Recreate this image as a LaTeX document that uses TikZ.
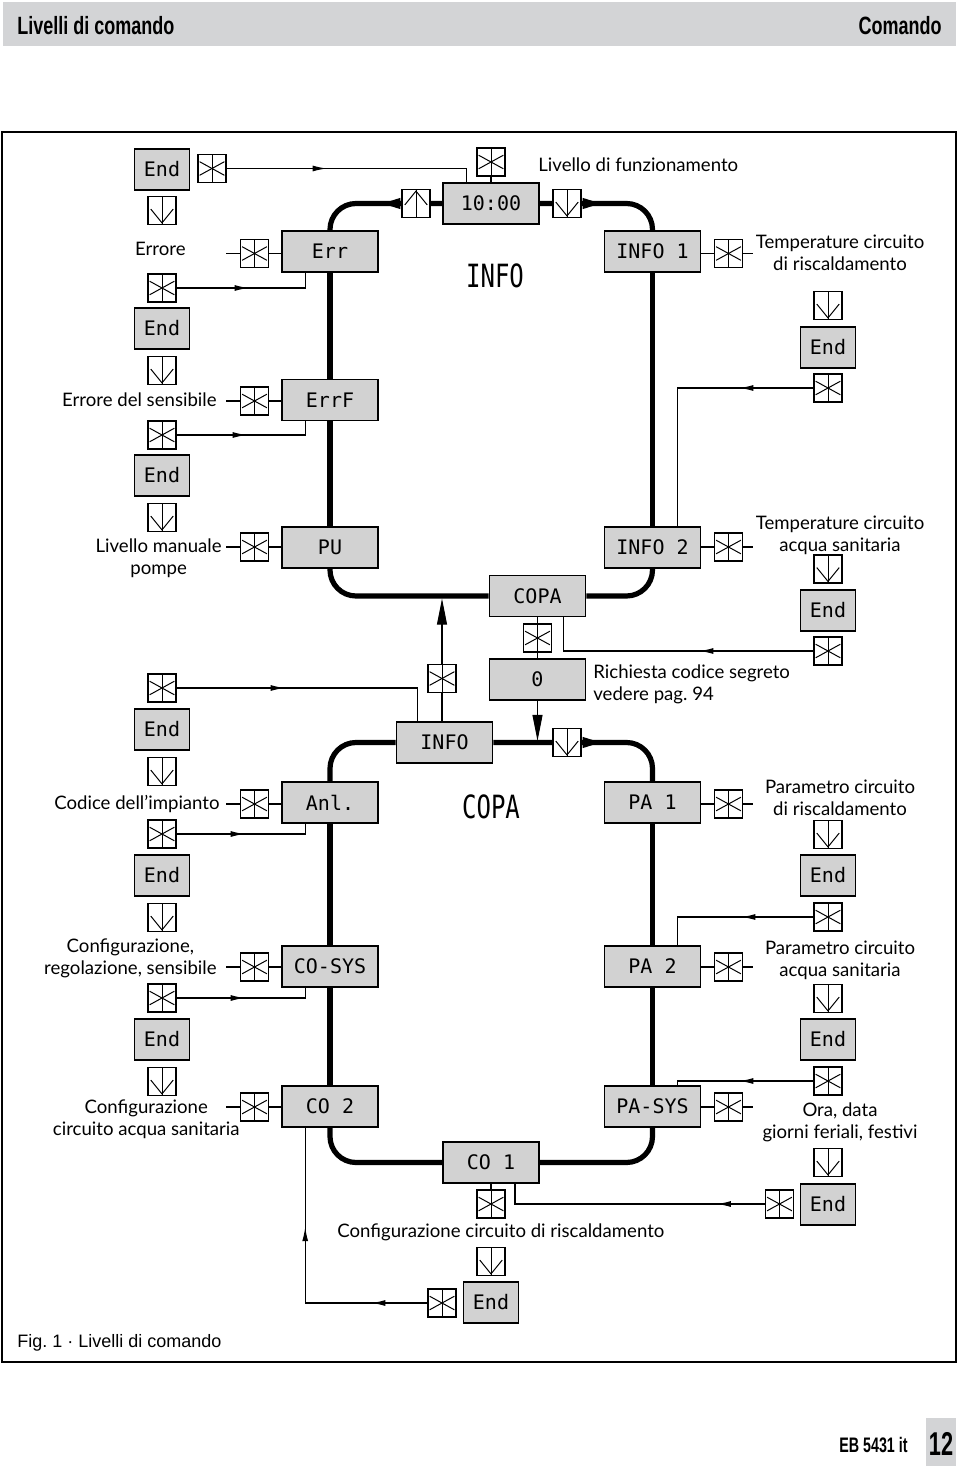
\documentclass[tikz,border=0pt]{standalone}
\usepackage{fontspec}
\setmainfont{Lato}
\newfontfamily\segfont{DejaVu Sans Mono}
\newfontfamily\headfont{Liberation Sans}
\usetikzlibrary{arrows.meta,decorations.markings,backgrounds}
\definecolor{dispgray}{RGB}{210,210,210}
\definecolor{bandgray}{RGB}{211,212,214}
\tikzset{
  disp/.style={draw, line width=0.8pt, fill=dispgray, inner sep=0pt, minimum height=20.5pt,
    font=\segfont\fontsize{10}{10}\selectfont},
  wide/.style={disp, minimum width=48pt},
  endbox/.style={disp, minimum width=27.5pt},
  keybox/.style={draw, fill=white, line width=0.6pt, minimum size=14pt, inner sep=0pt},
  starbox/.style={keybox, path picture={
    \draw[line width=0.5pt] (path picture bounding box.north) -- (path picture bounding box.south);
    \draw[line width=0.5pt] ([shift={(0.8pt,-3.6pt)}]path picture bounding box.north west) -- ([shift={(-0.8pt,3.6pt)}]path picture bounding box.south east);
    \draw[line width=0.5pt] ([shift={(0.8pt,3.6pt)}]path picture bounding box.south west) -- ([shift={(-0.8pt,-3.6pt)}]path picture bounding box.north east);
  }},
  downbox/.style={keybox, path picture={
    \draw[line width=0.5pt] (path picture bounding box.north) -- (path picture bounding box.south);
    \draw[line width=0.5pt] ([shift={(1.4pt,-6.3pt)}]path picture bounding box.north west) -- ([shift={(0pt,0.8pt)}]path picture bounding box.south) -- ([shift={(-1.4pt,-6.3pt)}]path picture bounding box.north east);
  }},
  upbox/.style={keybox, path picture={
    \draw[line width=0.5pt] (path picture bounding box.north) -- (path picture bounding box.south);
    \draw[line width=0.5pt] ([shift={(1.4pt,6.3pt)}]path picture bounding box.south west) -- ([shift={(0pt,-0.8pt)}]path picture bounding box.north) -- ([shift={(-1.4pt,6.3pt)}]path picture bounding box.south east);
  }},
  loopline/.style={line width=2.6pt, rounded corners=13pt},
  looparrow/.style={line width=2.6pt, -{Triangle[length=11pt,width=4.6pt]}},
  thinline/.style={line width=0.55pt},
  arrowat/.style={postaction={decorate, decoration={markings,
    mark=at position #1 with {\arrow{Latex[length=7pt,width=3pt]}}}}},
  droparrow/.style={thinline, -{Triangle[length=13pt,width=5pt]}},
  lbl/.style={font=\fontsize{9.3}{10.9}\selectfont, inner sep=0pt, align=center},
  bigseg/.style={font=\segfont\fontsize{16}{16}\selectfont, inner sep=0pt},
  headtxt/.style={font=\headfont\bfseries\fontsize{12.5}{12.5}\selectfont, inner sep=0pt},
}
\begin{document}
\begin{tikzpicture}[x=0.5pt,y=-0.5pt]
\useasboundingbox (0,0) rectangle (960,1466);
% header / footer
\fill[bandgray] (3,2) rectangle (956,46);
\node[headtxt, anchor=west] (htl) at (17,26) {\scalebox{0.72}[1]{Livelli di comando}};
\node[headtxt, anchor=east] (htr) at (942,26) {\scalebox{0.72}[1]{Comando}};
\draw[line width=0.8pt] (2,132) rectangle (956,1362);
\node[anchor=west, inner sep=0pt, font=\headfont\fontsize{9}{9}\selectfont] (fig) at (17,1343) {Fig.~1 · Livelli di comando};
\fill[bandgray] (926,1418) rectangle (956,1466);
\node[headtxt, font=\headfont\bfseries\fontsize{10.5}{10.5}\selectfont, anchor=east] (eb) at (908,1445) {\scalebox{0.68}[1]{EB 5431 it}};
\node[headtxt, font=\headfont\bfseries\fontsize{16.5}{16.5}\selectfont] (pg) at (941,1444) {\scalebox{0.66}[1]{12}};

% ---------- left column ----------
\node[endbox] (endA) at (162,169.5) {End};
\node[starbox] (sTop) at (212,168.5) {};
\node[downbox] (dA) at (162,210.5) {};
\node[lbl, anchor=east] (lErr) at (186,249) {Errore};
\node[starbox] (sErr) at (254.5,253.5) {};
\node[wide] (err) at (330,251.5) {Err};
\node[starbox] (s1) at (162,288) {};
\node[endbox] (endB) at (162,328.5) {End};
\node[downbox] (dB) at (162,370.5) {};
\node[lbl, anchor=east] (lErrF) at (217,400) {Errore del sensibile};
\node[starbox] (sErrF) at (254.5,401) {};
\node[wide] (errf) at (330,400) {ErrF};
\node[starbox] (s2) at (162,435) {};
\node[endbox] (endC) at (162,475.5) {End};
\node[downbox] (dC) at (162,517.5) {};
\node[lbl, anchor=east] (lPU) at (222,558) {Livello manuale\\pompe};
\node[starbox] (sPU) at (254.5,547) {};
\node[wide] (pu) at (330,547.5) {PU};
\node[starbox] (s3) at (162,688) {};
\node[endbox] (endD) at (162,729.5) {End};
\node[downbox] (dD) at (162,771.5) {};
\node[lbl, anchor=east] (lAnl) at (220,804) {Codice dell’impianto};
\node[starbox] (sAnl) at (254.5,804) {};
\node[wide] (anl) at (330,802.5) {Anl.};
\node[starbox] (s4) at (162,834) {};
\node[endbox] (endE) at (162,875.5) {End};
\node[downbox] (dE) at (162,917.5) {};
\node[lbl, anchor=east] (lCosys) at (217,958) {Configurazione,\\regolazione, sensibile};
\node[starbox] (sCosys) at (254.5,967) {};
\node[wide] (cosys) at (330,966.5) {CO-SYS};
\node[starbox] (s5) at (162,998) {};
\node[endbox] (endF) at (162,1039.5) {End};
\node[downbox] (dF) at (162,1081.5) {};
\node[lbl, anchor=east] (lCo2) at (240,1119) {Configurazione\\circuito acqua sanitaria};
\node[starbox] (sCo2) at (254.5,1107) {};
\node[wide] (co2) at (330,1106.5) {CO 2};

% ---------- centre ----------
\node[wide] (t1000) at (491,203.5) {10:00};
\node[starbox] (sTime) at (491,162) {};
\node[upbox] (upB) at (416,203.5) {};
\node[downbox] (dnT) at (567,203.5) {};
\node[lbl, anchor=west] (lTime) at (538,165) {Livello di funzionamento};
\node[bigseg] (bigInfo) at (495,276) {\scalebox{0.75}[1]{INFO}};
\node[wide] (copaU) at (537.5,596) {COPA};
\node[starbox] (sCopa) at (537.5,638) {};
\node[wide] (zero) at (537.5,679.5) {0};
\node[lbl, anchor=west, align=left] (lZero) at (593,684) {Richiesta codice segreto\\vedere pag.~94};
\node[wide] (infoL) at (444.5,742.5) {INFO};
\node[starbox] (sInfoL) at (442,678.5) {};
\node[downbox] (dnL) at (567,742.5) {};
\node[bigseg] (bigCopa) at (491,807) {\scalebox{0.75}[1]{COPA}};
\node[wide] (co1) at (491,1162.5) {CO 1};
\node[starbox] (sCo1) at (491,1204) {};
\node[lbl, anchor=west] (lCo1) at (337,1232) {Configurazione circuito di riscaldamento};
\node[downbox] (dCo1) at (491,1261.5) {};
\node[endbox] (endBot) at (491,1302.5) {End};
\node[starbox] (sBot) at (442,1303) {};

% ---------- right column ----------
\node[wide] (info1) at (652.5,251.5) {INFO 1};
\node[starbox] (sInfo1) at (728.5,253.5) {};
\node[lbl] (lT1) at (840,253) {Temperature circuito\\di riscaldamento};
\node[downbox] (dR1) at (828,305.5) {};
\node[endbox] (endR1) at (828,347.5) {End};
\node[starbox] (sR1) at (828,388) {};
\node[wide] (info2) at (652.5,547.5) {INFO 2};
\node[starbox] (sInfo2) at (728.5,547) {};
\node[lbl] (lT2) at (840,535.5) {Temperature circuito\\acqua sanitaria};
\node[downbox] (dR2) at (828,569) {};
\node[endbox] (endR2) at (828,610.5) {End};
\node[starbox] (sR2) at (828,651) {};
\node[wide] (pa1) at (652.5,802.5) {PA 1};
\node[starbox] (sPa1) at (728.5,804) {};
\node[lbl] (lP1) at (840,798) {Parametro circuito\\di riscaldamento};
\node[downbox] (dR3) at (828,834.5) {};
\node[endbox] (endR3) at (828,875.5) {End};
\node[starbox] (sR3) at (828,917) {};
\node[wide] (pa2) at (652.5,966.5) {PA 2};
\node[starbox] (sPa2) at (728.5,967) {};
\node[lbl] (lP2) at (840,960.5) {Parametro circuito\\acqua sanitaria};
\node[downbox] (dR4) at (828,998.5) {};
\node[endbox] (endR4) at (828,1039.5) {End};
\node[starbox] (sR4) at (828,1081) {};
\node[wide] (pasys) at (652.5,1106.5) {PA-SYS};
\node[starbox] (sPasys) at (728.5,1107) {};
\node[lbl] (lOra) at (840,1122) {Ora, data\\giorni feriali, festivi};
\node[downbox] (dR5) at (828,1162.5) {};
\node[endbox] (endR5) at (828,1204.5) {End};
\node[starbox] (sR5) at (779.5,1204) {};

% ---------- connectors ----------
\begin{scope}[on background layer]
  % upper loop
  \draw[loopline] (t1000.west) -| (err.north);
  \draw[loopline] (err.south) -- (errf.north) (errf.south) -- (pu.north);
  \draw[loopline] (pu.south) |- (copaU.west);
  \draw[loopline] (copaU.east) -| (info2.south);
  \draw[loopline] (info2.north) -- (info1.south);
  \draw[loopline] (info1.north) |- (t1000.east);
  % lower loop
  \draw[loopline] (infoL.west) -| (anl.north);
  \draw[loopline] (anl.south) -- (cosys.north) (cosys.south) -- (co2.north);
  \draw[loopline] (co2.south) |- (co1.west);
  \draw[loopline] (co1.east) -| (pasys.south);
  \draw[loopline] (pasys.north) -- (pa2.south) (pa2.north) -- (pa1.south);
  \draw[loopline] (pa1.north) |- (infoL.east);
  % loop arrowheads
  \draw[looparrow] (upB.west) -- ++(-23,0);
  \draw[looparrow] (dnT.east) -- ++(23,0);
  \draw[looparrow] (dnL.east) -- ++(23,0);
  % key stubs left
  \foreach \s/\b in {sErr/err, sErrF/errf, sPU/pu, sAnl/anl, sCosys/cosys, sCo2/co2}{
    \draw[thinline] (\s.west) -- ++(-14,0);
    \draw[thinline] (\s.east) -- (\s.east -| \b.west);
  }
  % key stubs right
  \foreach \s/\b in {sInfo1/info1, sInfo2/info2, sPa1/pa1, sPa2/pa2, sPasys/pasys}{
    \draw[thinline] (\s.west -| \b.east) -- (\s.west);
    \draw[thinline] (\s.east) -- ++(10,0);
  }
  % return lines
  \draw[thinline] (sTime.south) -- (t1000.north);
  \draw[thinline, arrowat=50pt] (sTop.east) -| ([xshift=12pt]t1000.north west);
  \draw[thinline, arrowat=36pt] (s1.east) -| ([xshift=12pt]err.south west);
  \draw[thinline, arrowat=35pt] (s2.east) -| ([xshift=12pt]errf.south west);
  \draw[thinline, arrowat=54pt] (s3.east) -| ([xshift=11pt]infoL.north west);
  \draw[thinline, arrowat=34pt] (s4.east) -| ([xshift=12pt]anl.south west);
  \draw[thinline, arrowat=34pt] (s5.east) -| ([xshift=12pt]cosys.south west);
  \draw[thinline, postaction={decorate, decoration={markings,
      mark=at position 28pt with {\arrow{Latex[length=7pt,width=3pt]}},
      mark=at position 99pt with {\arrow{Latex[length=7pt,width=3pt]}}}}]
    (sBot.west) -| ([xshift=12pt]co2.south west);
  \draw[thinline, arrowat=37pt] (sR1.west) -| ([xshift=37pt]info2.north west);
  \draw[thinline, arrowat=57pt] (sR2.west) -| ([xshift=13.2pt]copaU.south);
  \draw[thinline, arrowat=36pt] (sR3.west) -| ([xshift=37pt]pa2.north west);
  \draw[thinline, arrowat=37pt] (sR4.west) -| ([xshift=37pt]pasys.north west);
  \draw[thinline, arrowat=24pt] (sR5.west) -| ([xshift=12pt]co1.south);
  % COPA / code entry
  \draw[thinline] (copaU.south) -- (sCopa.north);
  \draw[thinline] (sCopa.south) -- (zero.north);
  \draw[droparrow] (zero.south) -- ([yshift=0.8pt]zero.south |- infoL.center);
  \draw[thinline] (infoL.north -| sInfoL.south) -- (sInfoL.south);
  \draw[droparrow] (sInfoL.north) -- ([yshift=-1.3pt]sInfoL.north |- copaU.center);
  \draw[thinline] (co1.south) -- (sCo1.north);
\end{scope}
\end{tikzpicture}
\end{document}
